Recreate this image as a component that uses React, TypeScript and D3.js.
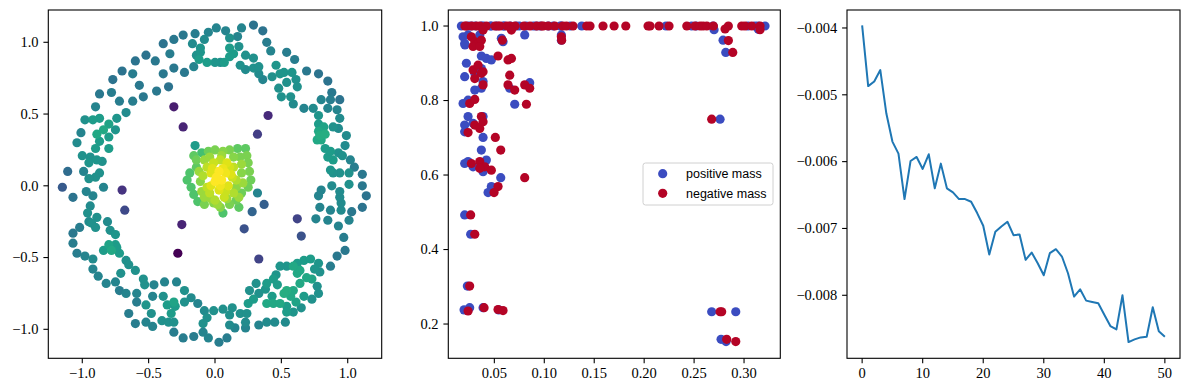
import React from 'react';
import * as d3 from 'd3';

// ---------- Panel 1: point cloud coloured by value (x, y, colour value) ----------
const cloudPoints: [number, number, number][] = [
  // outer top arc
  [-0.60,0.87,0.38],[-0.52,0.91,0.38],[-0.45,0.87,0.40],[-0.39,0.99,0.38],[-0.34,0.92,0.42],[-0.31,1.02,0.40],
  [-0.24,1.05,0.40],[-0.15,1.06,0.42],[-0.17,0.99,0.48],[-0.11,0.93,0.52],[-0.08,1.02,0.48],[-0.05,1.07,0.45],
  [0.01,1.10,0.45],[0.08,1.08,0.45],[0.11,1.03,0.50],[0.17,1.04,0.45],[0.20,1.10,0.45],[0.29,1.12,0.38],
  [0.36,1.08,0.38],[0.39,1.00,0.42],[0.42,0.94,0.45],[0.54,0.93,0.42],[0.60,0.88,0.42],[0.69,0.80,0.40],
  [0.78,0.78,0.38],[0.85,0.73,0.38],[0.88,0.65,0.40],[0.94,0.60,0.38],
  // inner top
  [-0.31,0.82,0.40],[-0.23,0.79,0.40],[-0.16,0.83,0.45],[-0.12,0.88,0.55],[-0.06,0.86,0.55],[0.00,0.86,0.52],
  [0.07,0.86,0.55],[0.11,0.90,0.55],[0.14,0.92,0.55],[0.18,0.97,0.50],[0.19,0.84,0.50],[0.23,0.81,0.48],
  [0.23,0.91,0.50],[0.29,0.89,0.50],[0.29,0.82,0.50],[0.33,0.78,0.48],[0.36,0.74,0.45],[0.43,0.76,0.50],
  [0.46,0.84,0.52],[0.49,0.78,0.52],[0.52,0.79,0.52],[0.54,0.72,0.50],[0.48,0.68,0.50],[0.50,0.62,0.50],
  [0.57,0.62,0.50],[0.59,0.57,0.48],[0.61,0.74,0.50],[0.58,0.79,0.52],[0.62,0.69,0.50],[0.67,0.54,0.45],
  [0.33,0.83,0.50],[0.04,0.86,0.50],[-0.11,0.96,0.52],[-0.14,0.91,0.50],[0.11,0.96,0.55],
  // left upper ring
  [-0.70,0.80,0.38],[-0.77,0.74,0.38],[-0.87,0.64,0.40],[-0.90,0.55,0.45],[-0.98,0.46,0.50],[-1.01,0.37,0.45],
  [-1.04,0.30,0.48],[-1.00,0.21,0.50],[-0.99,0.10,0.45],[-1.11,0.10,0.35],[-1.15,-0.01,0.28],[-1.07,-0.08,0.38],
  [-0.97,-0.04,0.45],[-0.94,-0.14,0.48],[-0.96,-0.19,0.50],
  // inner left upper
  [-0.62,0.78,0.42],[-0.57,0.70,0.40],[-0.44,0.66,0.40],[-0.39,0.78,0.40],[-0.35,0.69,0.38],[-0.54,0.62,0.40],
  [-0.62,0.59,0.42],[-0.72,0.59,0.42],[-0.78,0.65,0.42],[-0.67,0.51,0.48],[-0.74,0.47,0.52],[-0.75,0.39,0.52],
  [-0.80,0.43,0.58],[-0.87,0.47,0.55],[-0.92,0.46,0.55],[-0.89,0.36,0.60],[-0.84,0.39,0.60],[-0.80,0.34,0.55],
  [-0.87,0.31,0.55],[-0.80,0.26,0.55],[-0.90,0.26,0.55],[-0.94,0.20,0.50],[-0.89,0.18,0.52],[-0.85,0.17,0.50],
  [-0.95,0.16,0.52],[-0.87,0.09,0.50],[-0.90,0.06,0.50],[-0.95,0.05,0.50],[-0.84,-0.01,0.45],[-0.92,-0.07,0.45],
  // left lower and bottom
  [-0.89,-0.22,0.50],[-0.93,-0.26,0.50],[-0.95,-0.25,0.48],[-0.90,-0.29,0.50],[-1.02,-0.29,0.42],[-1.07,-0.33,0.40],
  [-1.07,-0.40,0.42],[-1.04,-0.47,0.42],[-0.98,-0.49,0.45],[-0.92,-0.51,0.48],[-0.92,-0.58,0.45],[-0.88,-0.63,0.45],
  [-0.82,-0.68,0.45],[-0.81,-0.25,0.48],[-0.79,-0.31,0.50],[-0.75,-0.34,0.52],[-0.75,-0.41,0.55],[-0.80,-0.41,0.58],
  [-0.84,-0.45,0.55],[-0.78,-0.45,0.60],[-0.72,-0.47,0.55],[-0.74,-0.43,0.55],[-0.67,-0.52,0.50],[-0.71,-0.61,0.50],
  [-0.65,-0.55,0.50],[-0.60,-0.59,0.50],[-0.75,-0.67,0.45],[-0.72,-0.73,0.42],[-0.67,-0.75,0.45],[-0.59,-0.75,0.45],
  [-0.59,-0.81,0.42],[-0.65,-0.89,0.42],[-0.60,-0.96,0.42],[-0.52,-0.95,0.45],[-0.47,-0.98,0.45],[-0.54,-0.65,0.50],
  [-0.53,-0.69,0.50],[-0.46,-0.69,0.45],[-0.38,-0.67,0.45],[-0.29,-0.67,0.45],[-0.47,-0.77,0.45],[-0.39,-0.77,0.50],
  [-0.52,-0.83,0.52],[-0.48,-0.89,0.50],[-0.31,-0.81,0.58],[-0.30,-0.84,0.55],[-0.33,-0.89,0.55],[-0.36,-0.83,0.55],
  [-0.40,-0.94,0.50],[-0.35,-0.95,0.50],[-0.31,-0.95,0.50],[-0.23,-0.73,0.50],[-0.18,-0.78,0.48],[-0.23,-0.81,0.50],
  [-0.13,-0.82,0.45],[-0.31,-1.02,0.42],[-0.24,-1.06,0.42],[-0.16,-1.05,0.42],[-0.09,-1.02,0.45],[-0.05,-1.06,0.45],
  [0.03,-1.09,0.42],[0.09,-1.06,0.42],[-0.08,-0.87,0.48],[-0.06,-0.92,0.50],[-0.09,-0.96,0.50],[-0.01,-0.87,0.50],
  [0.06,-0.86,0.50],[0.13,-0.85,0.50],[0.11,-0.90,0.50],[0.11,-0.97,0.48],[0.15,-0.99,0.45],[0.19,-0.89,0.50],
  [0.24,-0.89,0.50],[0.23,-0.99,0.45],[0.23,-0.95,0.48],[0.33,-0.97,0.45],[0.25,-0.82,0.55],[0.29,-0.79,0.55],
  [0.26,-0.73,0.50],[0.33,-0.75,0.50],[0.31,-0.68,0.50],[0.38,-0.72,0.52],[0.39,-0.68,0.55],[0.44,-0.65,0.55],
  [0.47,-0.69,0.55],[0.43,-0.77,0.55],[0.39,-0.82,0.60],[0.44,-0.82,0.60],[0.49,-0.82,0.60],[0.54,-0.84,0.55],
  [0.54,-0.88,0.55],[0.45,-0.95,0.48],[0.53,-0.95,0.48],[0.39,-0.95,0.48],[0.59,-0.88,0.52],[0.65,-0.85,0.50],
  [0.67,-0.77,0.55],[0.73,-0.79,0.50],[0.78,-0.75,0.50],[0.77,-0.70,0.50],[0.73,-0.65,0.58],[0.69,-0.64,0.60],
  [0.64,-0.68,0.60],[0.59,-0.73,0.60],[0.54,-0.73,0.62],[0.52,-0.75,0.62],[0.57,-0.77,0.60],[0.61,-0.81,0.58],
  [0.62,-0.61,0.60],[0.64,-0.59,0.60],[0.67,-0.52,0.55],[0.72,-0.51,0.55],[0.78,-0.54,0.52],[0.79,-0.60,0.50],
  [0.75,-0.58,0.52],[0.62,-0.54,0.55],[0.54,-0.56,0.52],[0.49,-0.56,0.52],[0.46,-0.62,0.52],[0.59,-0.56,0.60],
  // right side
  [0.87,-0.56,0.42],[0.92,-0.49,0.40],[0.98,-0.45,0.40],[0.97,-0.36,0.42],[0.93,-0.28,0.45],[1.01,-0.24,0.45],
  [1.03,-0.18,0.40],[1.11,-0.15,0.38],[0.76,-0.23,0.45],[0.85,-0.24,0.45],[0.87,-0.17,0.45],[0.79,-0.15,0.45],
  [0.95,-0.17,0.48],[0.95,-0.12,0.48],[0.94,-0.08,0.48],[0.94,-0.04,0.48],[0.88,0.00,0.48],[0.80,-0.03,0.45],
  [0.78,-0.07,0.45],[1.01,0.01,0.50],[1.11,0.00,0.40],[1.14,-0.07,0.38],[1.11,0.08,0.40],[1.05,0.13,0.42],
  [1.02,0.18,0.45],[1.01,0.09,0.50],[0.94,0.09,0.50],[0.89,0.09,0.50],[0.87,0.11,0.52],[0.89,0.18,0.55],
  [0.85,0.20,0.55],[0.83,0.26,0.55],[0.87,0.24,0.55],[0.80,0.32,0.60],[0.77,0.32,0.60],[0.79,0.35,0.62],
  [0.83,0.36,0.62],[0.78,0.38,0.60],[0.82,0.41,0.58],[0.78,0.43,0.55],[0.78,0.49,0.52],[0.74,0.54,0.48],
  [0.85,0.54,0.45],[0.92,0.53,0.45],[0.94,0.47,0.48],[0.89,0.41,0.50],[0.93,0.40,0.48],[0.99,0.35,0.48],
  [0.98,0.28,0.48],[0.93,0.23,0.50],[0.80,0.60,0.45],[0.87,0.60,0.42],[0.96,0.21,0.50],
  // isolated low-value points
  [-0.31,0.55,0.08],[-0.24,0.41,0.10],[0.40,0.49,0.12],[0.32,0.36,0.18],[-0.70,-0.03,0.15],[-0.68,-0.17,0.22],
  [-0.25,-0.27,0.10],[-0.28,-0.47,0.00],[0.22,-0.30,0.25],[0.33,-0.51,0.20],[0.62,-0.23,0.20],[0.65,-0.35,0.25],
  [0.37,-0.13,0.30],[0.28,-0.18,0.32],[0.32,-0.05,0.45],
  // central cluster, rim
  [-0.15,0.28,0.55],[-0.10,0.23,0.70],[-0.05,0.24,0.78],[0.00,0.25,0.80],[0.06,0.24,0.82],[0.11,0.25,0.80],
  [0.17,0.26,0.75],[0.23,0.26,0.75],[0.24,0.21,0.80],[0.25,0.16,0.80],[0.26,0.10,0.80],[0.27,0.04,0.78],
  [0.25,-0.01,0.78],[0.20,-0.05,0.78],[0.16,-0.10,0.78],[0.18,-0.15,0.75],[0.11,-0.13,0.80],[0.06,-0.19,0.72],
  [0.04,-0.15,0.82],[-0.01,-0.12,0.82],[-0.08,-0.13,0.80],[-0.13,-0.11,0.72],[-0.16,-0.06,0.72],[-0.18,-0.01,0.72],
  [-0.21,0.04,0.72],[-0.19,0.09,0.72],[-0.14,0.13,0.75],[-0.14,0.18,0.78],[-0.08,0.18,0.85],[0.14,0.20,0.82],
  [0.20,0.09,0.82],[-0.11,0.03,0.82],[-0.03,-0.09,0.85],[0.09,-0.09,0.85],[0.16,-0.01,0.83],
  [-0.12,0.10,0.85],[0.20,0.15,0.85],[0.18,-0.08,0.85],[-0.10,-0.04,0.85],[0.05,0.21,0.85],[0.02,-0.13,0.85],
  [-0.04,0.20,0.85],[0.21,0.02,0.85],[0.19,0.20,0.80],[-0.16,0.21,0.75],
  // central cluster, core
  [-0.06,0.13,0.90],[-0.01,0.16,0.92],[0.04,0.18,0.90],[0.09,0.16,0.95],[0.14,0.13,0.90],[-0.09,0.07,0.88],
  [-0.03,0.09,0.95],[0.03,0.10,1.00],[0.08,0.09,0.98],[0.13,0.06,0.92],[-0.06,-0.01,0.90],[0.00,0.03,1.00],
  [0.05,0.04,1.00],[0.10,0.00,0.95],[0.16,0.04,0.88],[-0.04,-0.05,0.90],[0.03,-0.03,0.95],[0.08,-0.04,0.92],
  [0.14,-0.05,0.88],[0.00,-0.10,0.88],[0.11,0.13,0.93],[0.01,0.06,1.00],[0.04,0.00,0.98],[-0.08,-0.08,0.85],
  [0.06,0.12,0.97],[-0.02,0.12,0.95],[0.12,0.08,0.95],[0.07,-0.08,0.92],[-0.03,0.00,0.95],
];

// ---------- Panel 2: positive / negative mass ----------
const positiveMass: [number, number][] = [
  [0.017,1.0],[0.024,1.0],[0.027,1.0],[0.031,1.0],[0.037,1.0],[0.039,1.0],[0.046,1.0],[0.047,1.0],[0.052,1.0],
  [0.059,1.0],[0.060,1.0],[0.066,1.0],[0.072,1.0],[0.075,1.0],[0.082,1.0],[0.089,1.0],[0.092,1.0],[0.096,1.0],
  [0.104,1.0],[0.109,1.0],[0.116,1.0],[0.117,1.0],[0.126,1.0],[0.1375,1.0],[0.2219,1.0],[0.2476,1.0],[0.252,1.0],
  [0.269,1.0],[0.304,1.0],[0.311,1.0],[0.314,1.0],[0.321,1.0],
  [0.0187,0.971],[0.0203,0.953],[0.0237,0.976],[0.0354,0.976],[0.057,0.967],[0.0587,0.958],[0.0804,0.976],
  [0.1171,0.962],[0.1171,0.976],[0.0206,0.949],[0.270,0.990],[0.279,0.962],[0.2817,0.929],[0.3143,0.991],
  [0.037,0.9195],[0.042,0.913],[0.047,0.909],
  [0.022,0.900],[0.0203,0.864],[0.0304,0.873],[0.037,0.886],
  [0.0387,0.851],[0.0304,0.828],[0.037,0.833],[0.0654,0.833],[0.0854,0.848],
  [0.0187,0.792],[0.0237,0.801],[0.0704,0.790],
  [0.0237,0.757],[0.0203,0.734],[0.0203,0.716],[0.0387,0.757],[0.0287,0.739],
  [0.0387,0.701],[0.037,0.667],
  [0.0203,0.631],[0.0237,0.636],[0.0287,0.622],[0.0387,0.609],[0.042,0.640],[0.037,0.618],
  [0.0564,0.593],[0.047,0.569],[0.0437,0.553],
  [0.0203,0.493],[0.0263,0.441],[0.023,0.302],
  [0.0197,0.238],[0.0253,0.244],[0.0387,0.244],[0.0544,0.238],
  [0.2676,0.233],[0.2917,0.233],[0.277,0.159],[0.282,0.153],[0.276,0.750],
];
const negativeMass: [number, number][] = [
  [0.0206,1.0],[0.022,1.0],[0.0273,1.0],[0.032,1.0],[0.0356,1.0],[0.042,1.0],[0.0507,1.0],[0.0537,1.0],[0.0557,1.0],
  [0.0623,1.0],[0.0654,1.0],[0.0707,1.0],[0.0797,1.0],[0.0857,1.0],[0.0924,1.0],[0.0971,1.0],[0.099,1.0],[0.104,1.0],
  [0.1105,1.0],[0.1185,1.0],[0.1221,1.0],[0.1288,1.0],[0.1425,1.0],[0.1458,1.0],[0.1588,1.0],[0.1699,1.0],[0.1816,1.0],
  [0.2039,1.0],[0.2059,1.0],[0.2149,1.0],[0.2249,1.0],[0.2427,1.0],[0.251,1.0],[0.256,1.0],[0.259,1.0],[0.2627,1.0],
  [0.2693,1.0],[0.2843,1.0],[0.2977,1.0],[0.301,1.0],[0.3077,1.0],[0.316,1.0],[0.316,0.990],[0.281,0.992],
  [0.027,0.971],[0.0304,0.958],[0.0337,0.953],[0.037,0.962],[0.0287,0.945],[0.0354,0.945],[0.0387,0.989],
  [0.0671,0.989],[0.1171,0.971],[0.1174,0.962],[0.058,0.962],[0.2843,0.961],[0.2887,0.929],
  [0.0537,0.9195],[0.0637,0.909],[0.0671,0.913],
  [0.0287,0.882],[0.0337,0.895],[0.0387,0.877],[0.0304,0.859],[0.037,0.873],[0.0654,0.868],
  [0.0387,0.842],[0.0637,0.842],[0.0704,0.828],[0.0804,0.842],[0.0854,0.833],
  [0.0253,0.792],[0.0304,0.803],[0.0821,0.790],
  [0.037,0.757],[0.0304,0.734],[0.0354,0.725],[0.0237,0.714],[0.0387,0.743],
  [0.051,0.701],[0.0564,0.667],
  [0.027,0.631],[0.0354,0.636],[0.0404,0.622],[0.047,0.613],[0.0354,0.618],
  [0.0804,0.593],[0.0537,0.569],[0.0497,0.553],
  [0.0263,0.493],[0.0304,0.441],[0.0253,0.302],
  [0.0237,0.235],[0.0397,0.244],[0.0537,0.239],[0.0587,0.236],
  [0.276,0.233],[0.2776,0.233],[0.2826,0.159],[0.2917,0.153],[0.2676,0.750],
];
const legendLabels = ['positive mass', 'negative mass'];

// ---------- Panel 3: curve ----------
const curveValues: number[] = [
  -0.00396,-0.00487,-0.0048,-0.00463,-0.00528,-0.0057,-0.00588,-0.00656,-0.00599,-0.00593,
  -0.00611,-0.00589,-0.0064,-0.00603,-0.0064,-0.00646,-0.00656,-0.00656,-0.0066,-0.00677,
  -0.00696,-0.00739,-0.00705,-0.00697,-0.0069,-0.0071,-0.00709,-0.00747,-0.00736,-0.00752,
  -0.0077,-0.00737,-0.00731,-0.00742,-0.00767,-0.00802,-0.00791,-0.00808,-0.0081,-0.00812,
  -0.00829,-0.00846,-0.00851,-0.008,-0.0087,-0.00866,-0.00863,-0.00862,-0.00818,-0.00854,-0.00862,
];

// tick values
const ticks1 = [-1, -0.5, 0, 0.5, 1];
const ticks2x = [0.05, 0.1, 0.15, 0.2, 0.25, 0.3];
const ticks2y = [0.2, 0.4, 0.6, 0.8, 1.0];
const ticks3x = [0, 10, 20, 30, 40, 50];
const ticks3y = [-0.008, -0.007, -0.006, -0.005, -0.004];

const SERIF = '"Liberation Serif", serif';
const SANS = '"Liberation Sans", sans-serif';
const FS = 14.5;
const TICK = 4.9;
const PAD = 4.9;
const BLUE = '#3b4cc0';
const RED = '#b40426';

type Box = { l: number; r: number; t: number; b: number };

function Frame({ box, x, y, xt, yt, fx, fy }: {
  box: Box; x: d3.ScaleLinear<number, number>; y: d3.ScaleLinear<number, number>;
  xt: number[]; yt: number[]; fx: (v: number) => string; fy: (v: number) => string;
}) {
  return (
    <g>
      <rect x={box.l} y={box.t} width={box.r - box.l} height={box.b - box.t} fill="none" stroke="#000" strokeWidth={1.1} />
      {xt.map((v) => (
        <g key={'x' + v}>
          <line x1={x(v)} x2={x(v)} y1={box.b} y2={box.b + TICK} stroke="#000" strokeWidth={1.1} />
          <text x={x(v)} y={box.b + TICK + PAD + 9.6} textAnchor="middle" fontFamily={SERIF} fontSize={FS}>{fx(v)}</text>
        </g>
      ))}
      {yt.map((v) => (
        <g key={'y' + v}>
          <line x1={box.l - TICK} x2={box.l} y1={y(v)} y2={y(v)} stroke="#000" strokeWidth={1.1} />
          <text x={box.l - TICK - PAD} y={y(v) + 4.8} textAnchor="end" fontFamily={SERIF} fontSize={FS}>{fy(v)}</text>
        </g>
      ))}
    </g>
  );
}

export default function App() {
  const b1: Box = { l: 48.3, r: 381.7, t: 10, b: 358.3 };
  const b2: Box = { l: 448.3, r: 780.3, t: 10, b: 358.3 };
  const b3: Box = { l: 847, r: 1180, t: 10, b: 358.3 };

  const x1 = d3.scaleLinear().domain([-1.256, 1.256]).range([b1.l, b1.r]);
  const y1 = d3.scaleLinear().domain([-1.202, 1.225]).range([b1.b, b1.t]);
  const x2 = d3.scaleLinear().domain([0.0039, 0.3363]).range([b2.l, b2.r]);
  const y2 = d3.scaleLinear().domain([0.108, 1.043]).range([b2.b, b2.t]);
  const x3 = d3.scaleLinear().domain([-2.5, 52.5]).range([b3.l, b3.r]);
  const y3 = d3.scaleLinear().domain([-0.008943, -0.003731]).range([b3.b, b3.t]);

  const sorted = [...cloudPoints].sort((a, b) => a[2] - b[2]);
  const line = d3.line<number>().x((_, i) => x3(i)).y((d) => y3(d));
  const f1 = d3.format('.1f');
  const f2 = d3.format('.2f');
  const f3 = d3.format('.3f');
  const fd = d3.format('d');
  const R = 4.6;

  return (
    <svg width={1189} height={390} style={{ position: 'absolute', left: 0, top: 0, background: '#fff' }}>
      <rect width={1189} height={390} fill="#fff" />
      {/* panel 1 */}
      <g>
        {sorted.map((p, i) => (
          <circle key={i} cx={x1(p[0])} cy={y1(p[1])} r={R} fill={d3.interpolateViridis(p[2])} />
        ))}
        <Frame box={b1} x={x1} y={y1} xt={ticks1} yt={ticks1} fx={f1} fy={f1} />
      </g>
      {/* panel 2 */}
      <g>
        {positiveMass.map((p, i) => (
          <circle key={'p' + i} cx={x2(p[0])} cy={y2(p[1])} r={R} fill={BLUE} />
        ))}
        {negativeMass.map((p, i) => (
          <circle key={'n' + i} cx={x2(p[0])} cy={y2(p[1])} r={R} fill={RED} />
        ))}
        <Frame box={b2} x={x2} y={y2} xt={ticks2x} yt={ticks2y} fx={f2} fy={f1} />
        <g>
          <rect x={643} y={163} width={130} height={42} rx={2.5} fill="#fff" fillOpacity={0.8} stroke="#d0d0d0" strokeWidth={1} />
          {legendLabels.map((lab, i) => (
            <g key={lab}>
              <circle cx={662.7} cy={173.7 + i * 19.6} r={R} fill={i === 0 ? BLUE : RED} />
              <text x={686} y={178 + i * 19.6} fontFamily={SANS} fontSize={12.5}>{lab}</text>
            </g>
          ))}
        </g>
      </g>
      {/* panel 3 */}
      <g>
        <path d={line(curveValues) || ''} fill="none" stroke="#1f77b4" strokeWidth={2} strokeLinejoin="round" />
        <Frame box={b3} x={x3} y={y3} xt={ticks3x} yt={ticks3y} fx={fd} fy={f3} />
      </g>
    </svg>
  );
}
